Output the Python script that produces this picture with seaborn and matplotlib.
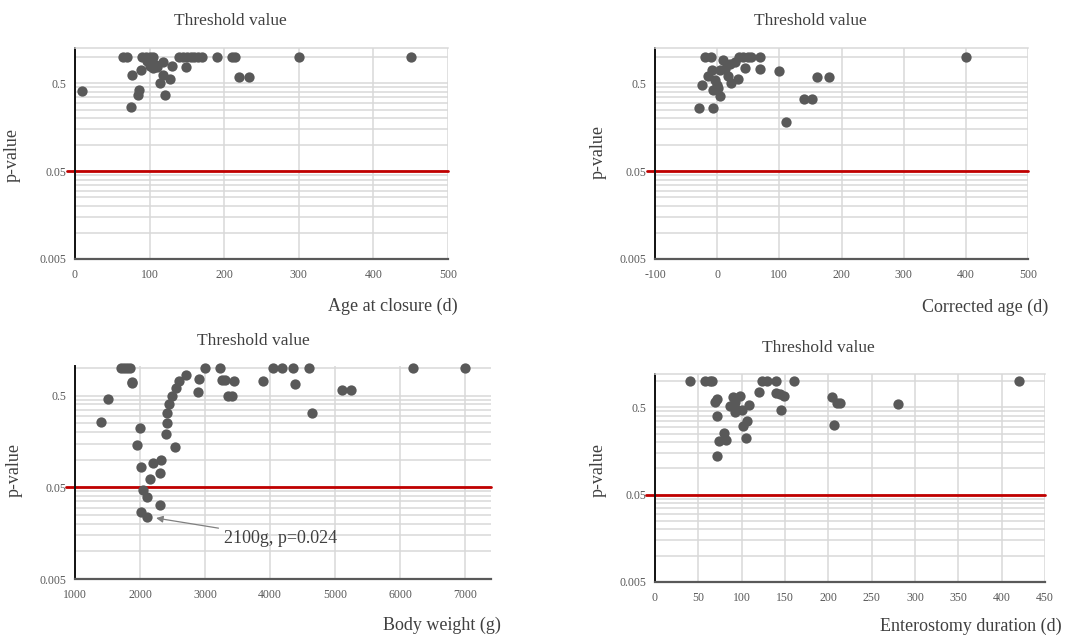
import matplotlib
matplotlib.use("Agg")
import matplotlib.pyplot as plt
import numpy as np
import pandas as pd
import seaborn as sns
from matplotlib.ticker import FixedLocator, NullFormatter

sns.set_style("white")
plt.rcParams['font.family'] = ['Liberation Serif', 'DejaVu Serif']
plt.rcParams['axes.unicode_minus'] = False

# ---- data (p = 1 means not significant at all) ----
age_x = [65, 70, 90, 95, 100, 105, 140, 145, 150, 155, 160, 165, 170, 190, 210, 215, 300, 450,
         10, 75, 86, 85, 77, 88, 97, 100, 104, 108, 110, 118, 130, 149, 118, 127, 114, 120, 220, 233]
age_p = [1] * 18 + [0.41, 0.27, 0.42, 0.37, 0.62, 0.71, 0.9, 0.78, 0.74, 0.8, 0.76, 0.86, 0.79,
                    0.77, 0.62, 0.56, 0.5, 0.37, 0.585, 0.585]

corr_x = [-20, -10, 35, 42, 50, 55, 69, 400,
          10, 20, 28, 45, 69, 100, 160, 180, 140, 152, 110, -30, -7, -25, -14, -8, 4, 12, 18,
          34, 22, -3, -1, -6, 2, 4]
corr_p = [1] * 8 + [0.92, 0.83, 0.87, 0.75, 0.72, 0.69, 0.59, 0.59, 0.33, 0.33, 0.18, 0.26, 0.26,
                    0.47, 0.6, 0.7, 0.7, 0.72, 0.6, 0.56, 0.5, 0.54, 0.48, 0.42, 0.44, 0.36]

bw_x = [1700, 1750, 1800, 1850, 3000, 3230, 4040, 4190, 4350, 4600, 6200, 7000,
        1880, 1870, 1500, 1400, 2000, 1950, 2010, 2200, 2330, 2310, 2150, 2050, 2110, 2300, 2010,
        2100, 2400, 2410, 2420, 2445, 2487, 2553, 2605, 2708, 2543, 2907, 2897, 3257, 3307, 3446,
        3360, 3410, 3887, 4390, 4650, 5100, 5250]
bw_p = [1] * 12 + [0.71, 0.68, 0.46, 0.26, 0.22, 0.145, 0.084, 0.093, 0.1, 0.071, 0.062, 0.047,
                   0.039, 0.032, 0.027, 0.024, 0.19, 0.25, 0.32, 0.405, 0.5, 0.605, 0.715, 0.847,
                   0.139, 0.766, 0.542, 0.746, 0.746, 0.714, 0.49, 0.49, 0.714, 0.674, 0.32, 0.575,
                   0.575]

ent_x = [40, 58, 63, 66, 123, 129, 140, 160, 420,
         69, 71, 72, 90, 98, 86, 92, 94, 100, 92, 109, 120, 140, 144, 149, 145, 106, 102, 80, 82,
         74, 105, 71, 204, 210, 214, 207, 280]
ent_p = [1] * 9 + [0.57, 0.62, 0.4, 0.65, 0.68, 0.52, 0.57, 0.48, 0.46, 0.44, 0.53, 0.74, 0.72,
                   0.7, 0.67, 0.46, 0.35, 0.305, 0.255, 0.213, 0.204, 0.22, 0.14, 0.66, 0.56, 0.56,
                   0.31, 0.55]

threshold = 0.05
y_major = [0.005, 0.05, 0.5]
y_labels = ["0.005", "0.05", "0.5"]
y_minor = [k * 0.005 for k in range(2, 10)] + [k * 0.05 for k in range(2, 10)] + [1.0]

W, H = 1065, 637
fig = plt.figure(figsize=(W / 100, H / 100), dpi=100)

def px_axes(x0, x1, ytop, ybot):
    return fig.add_axes([x0 / W, 1 - ybot / H, (x1 - x0) / W, (ybot - ytop) / H])

panels = [
    dict(x=age_x, p=age_p, box=(75, 448, 48, 259), xlim=(0, 500), xt=range(0, 501, 100),
         ytop=1.25, top=True, xlab="Age at closure (d)", xlab_pos=(458, 306),
         title_pos=(230, 21), ylab_pos=(12, 155)),
    dict(x=corr_x, p=corr_p, box=(655, 1028, 48, 259), xlim=(-100, 500), xt=range(-100, 501, 100),
         ytop=1.25, top=True, xlab="Corrected age (d)", xlab_pos=(1048, 307),
         title_pos=(810, 21), ylab_pos=(598, 152)),
    dict(x=bw_x, p=bw_p, box=(75, 491, 366, 579), xlim=(1000, 7400), xt=range(1000, 7001, 1000),
         ytop=1.05, top=False, xlab="Body weight (g)", xlab_pos=(501, 625),
         title_pos=(253, 341), ylab_pos=(14, 470)),
    dict(x=ent_x, p=ent_p, box=(655, 1045, 374, 582), xlim=(0, 450), xt=range(0, 451, 50),
         ytop=1.2, top=True, xlab="Enterostomy duration (d)", xlab_pos=(1062, 626),
         title_pos=(818, 348), ylab_pos=(598, 470)),
]

axes = []
for pn in panels:
    ax = px_axes(*pn["box"])
    df = pd.DataFrame({"x": pn["x"], "p": pn["p"]})
    ax.set_yscale("log")
    ax.set_xlim(*pn["xlim"])
    ax.set_ylim(0.005, pn["ytop"])
    ax.yaxis.set_major_locator(FixedLocator(y_major))
    ax.set_yticklabels(y_labels)
    ax.yaxis.set_minor_locator(FixedLocator(y_minor))
    ax.yaxis.set_minor_formatter(NullFormatter())
    ax.set_xticks(list(pn["xt"]))
    ax.set_xticklabels([str(v) for v in pn["xt"]])
    ax.grid(True, which="both", axis="y", color="#d9d9d9", lw=1.1, zorder=0)
    ax.grid(True, which="major", axis="x", color="#d9d9d9", lw=1.1, zorder=0)
    ax.set_axisbelow(True)
    ax.axhline(threshold, xmin=-0.022, xmax=1, color="#c00000", lw=2, zorder=2, clip_on=False)
    sns.scatterplot(data=df, x="x", y="p", ax=ax, color="#595959", s=55, linewidth=0, zorder=3,
                    clip_on=False)
    ax.set_xlabel("")
    ax.set_ylabel("")
    ax.tick_params(axis="y", which="major", direction="out", length=4, width=1, color="#404040",
                   labelsize=8.5, labelcolor="#595959", pad=2)
    ax.tick_params(axis="y", which="minor", length=0)
    ax.tick_params(axis="x", length=0, labelsize=8.5, labelcolor="#595959", pad=7)
    ax.spines["left"].set_color("#111111")
    ax.spines["left"].set_linewidth(1.4)
    ax.spines["bottom"].set_color("#595959")
    ax.spines["bottom"].set_linewidth(1.6)
    ax.spines["right"].set_visible(False)
    if pn["top"]:
        ax.spines["top"].set_color("#d9d9d9")
        ax.spines["top"].set_linewidth(1.1)
    else:
        ax.spines["top"].set_visible(False)
    tx, ty = pn["title_pos"]
    fig.text(tx / W, 1 - ty / H, "Threshold value", ha="center", va="center", fontsize=12.5,
             color="#404040")
    lx, ly = pn["xlab_pos"]
    fig.text(lx / W, 1 - ly / H, pn["xlab"], ha="right", va="center", fontsize=13,
             color="#404040")
    yx, yy = pn["ylab_pos"]
    fig.text(yx / W, 1 - yy / H, "p-value", ha="center", va="center", rotation=90, fontsize=13,
             color="#404040")
    axes.append(ax)

axes[2].annotate("2100g, p=0.024", xy=(2100, 0.024), xytext=(3300, 0.0139),
                 ha="left", va="center", fontsize=13, color="#404040",
                 arrowprops=dict(arrowstyle="-|>", color="#808080", lw=0.9, shrinkA=2, shrinkB=7,
                                 mutation_scale=10))

fig.savefig("out.png", dpi=100)
